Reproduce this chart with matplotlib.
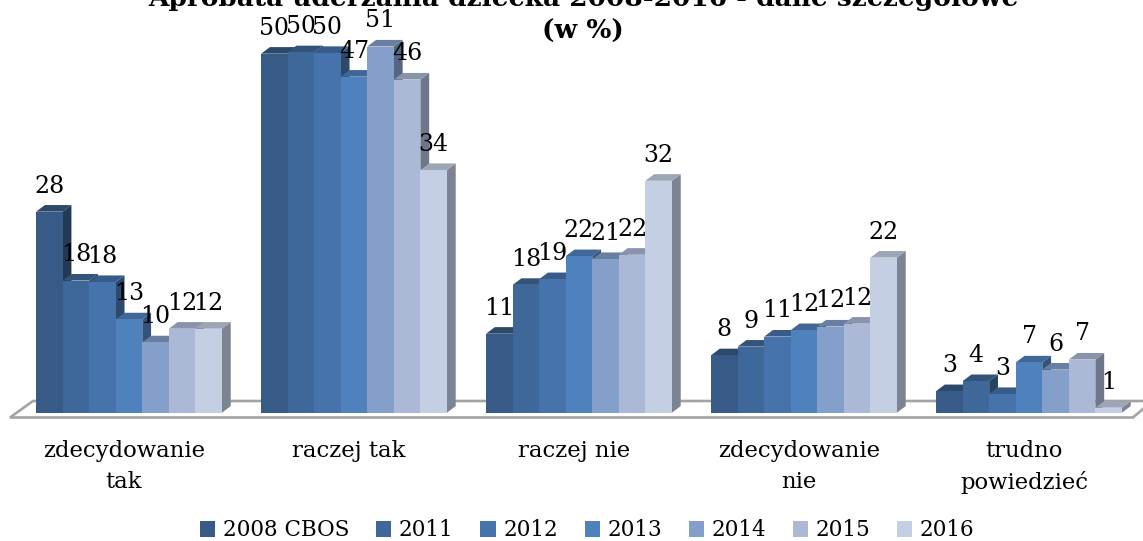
import matplotlib
matplotlib.use("Agg")
import matplotlib.pyplot as plt
from matplotlib.patches import Polygon, Patch
from matplotlib.colors import to_rgb
from matplotlib.transforms import Affine2D

categories = ["zdecydowanie\ntak", "raczej tak", "raczej nie", "zdecydowanie\nnie", "trudno\npowiedzieć"]
years = ["2008 CBOS", "2011", "2012", "2013", "2014", "2015", "2016"]
v2008 = [28, 50, 11, 8, 3]
v2011 = [18.4, 50.2, 17.8, 9.2, 4.4]
v2012 = [18.2, 50.1, 18.6, 10.6, 2.6]
v2013 = [13, 46.8, 21.8, 11.5, 7]
v2014 = [9.8, 51, 21.4, 12, 6]
v2015 = [11.7, 46.4, 22, 12.4, 7.4]
v2016 = [11.7, 33.8, 32.3, 21.6, 0.7]
series = [v2008, v2011, v2012, v2013, v2014, v2015, v2016]
colors = ["#375A86", "#3E6899", "#4673AB", "#4F81BD", "#839FCA", "#ABB9D7", "#C4CFE3"]
title = "Aprobata uderzania dziecka 2008-2016 - dane szczegółowe\n(w %)"

W, H = 1143, 541
PX_X = 225.0      # pixels per category
PX_Y = 7.18       # pixels per value unit
BASE = 412.7
BAR = 26.55 / PX_X
DX, DY = 8.8 / PX_X, 6.6 / PX_Y
SHIFT = 5 / PX_X  # plot centre vs. tick label

plt.rcParams["font.family"] = "DejaVu Serif"
fig = plt.figure(figsize=(W / 100, H / 100), dpi=100)
ax = fig.add_axes([0, (H - BASE) / H, 1, BASE / H])
ax.set_xlim(-124 / PX_X, (W - 124) / PX_X)
ax.set_ylim(0, BASE / PX_Y)
for s in ax.spines.values():
    s.set_visible(False)
ax.patch.set_alpha(0)
ax.set_yticks([])
ax.set_xticks(range(len(categories)))
ax.set_xticklabels(categories, fontsize=16.4, linespacing=1.5)
ax.tick_params(axis="x", length=0, pad=20)

# floor, in reference pixels
px = Affine2D().scale(1, -1).translate(0, H)
floor = [(10, 417.5), (33, 401), (1150, 401), (1143, 409), (1133, 417.5)]
ax.add_patch(Polygon(floor, closed=True, fc="white", ec="#A3A3A3", lw=1.9, transform=px,
                     clip_on=False, zorder=1))

def shade(c, f):
    return tuple(x * f for x in to_rgb(c))

z = 2
n = len(series)
for j, (vals, col) in enumerate(zip(series, colors)):
    for i, v in enumerate(vals):
        x0 = i + SHIFT + (j - n / 2) * BAR
        x1 = x0 + BAR
        side = [(x1, 0), (x1 + DX, DY), (x1 + DX, v + DY), (x1, v)]
        top = [(x0, v), (x0 + DX, v + DY), (x1 + DX, v + DY), (x1, v)]
        ax.add_patch(Polygon(side, fc=shade(col, 0.64), ec="none", zorder=z + i * 10 + j * 0.1, clip_on=False))
        ax.add_patch(Polygon(top, fc=shade(col, 0.80), ec="none", zorder=z + i * 10 + j * 0.1, clip_on=False))
        ax.bar(x0, v, width=BAR, align="edge", color=col, edgecolor="none",
               zorder=z + i * 10 + j * 0.1, clip_on=False)
        ax.text(x0 + BAR / 2, v + 25.6 / PX_Y, f"{v:.0f}", ha="center", va="center",
                fontsize=17, color="black", zorder=100, clip_on=False)

handles = [Patch(fc=c, ec="none") for c in colors]
fig.legend(handles, years, loc="center", bbox_to_anchor=(587.5 / W, 1 - 530.5 / H), ncol=7,
           frameon=False, fontsize=15.5, handlelength=0.7, handleheight=0.7,
           handletextpad=0.35, columnspacing=1.25, borderpad=0)

fig.text(583 / W, 1 - 44 / H, title, ha="center", va="bottom", fontsize=19, fontweight="bold",
         linespacing=1.42)
fig.savefig("out.png", dpi=100)
